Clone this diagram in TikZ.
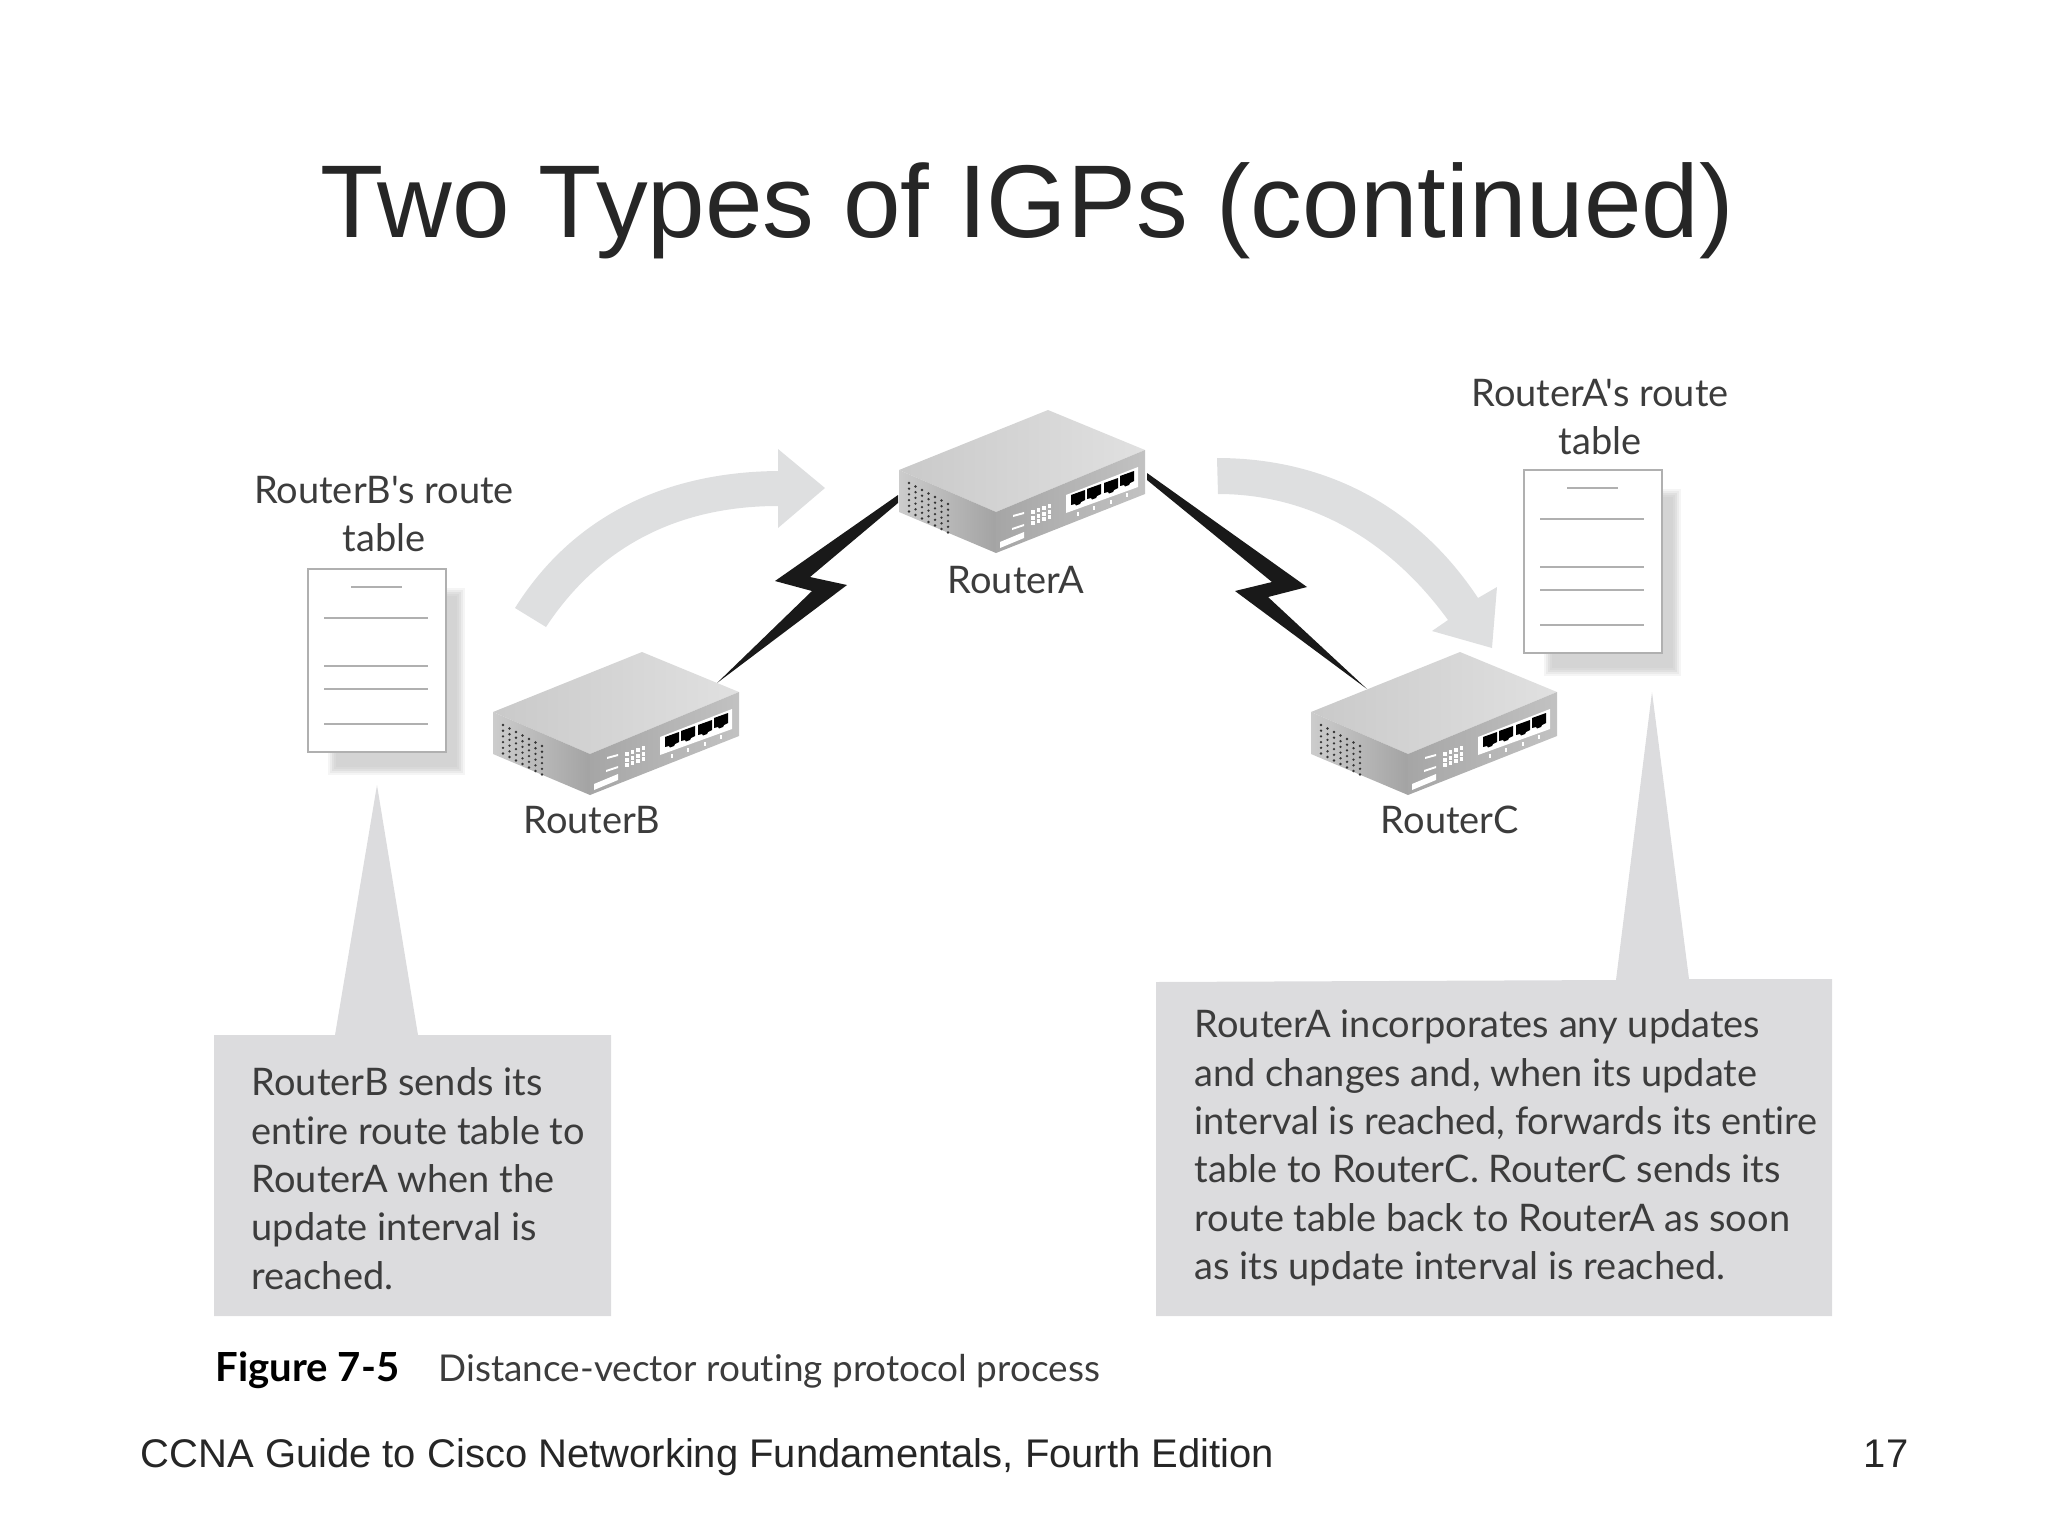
\documentclass[tikz,border=0pt]{standalone}
\usepackage{fontspec}
\newfontfamily\routerfont[Ligatures=NoCommon]{Lato}
\newfontfamily\slidefont{Liberation Sans}
\definecolor{boxgray}{HTML}{DCDCDE}
\definecolor{arrowgray}{HTML}{DEDFE0}
\definecolor{textgray}{HTML}{3C3C3C}
\definecolor{rulegray}{HTML}{B0B0B0}
\tikzset{
    router/.pic={
        % top, vent side, front side
        \shade[left color=black!21,right color=black!12] (0,0) -- (149,-60) -- (246,-20) -- (97,42) -- cycle;
        \shade[left color=black!20,right color=black!36] (0,0) -- (97,42) -- (97,83) -- (0,42) -- cycle;
        \shade[left color=black!35,right color=black!24] (97,42) -- (246,-20) -- (246,24) -- (97,83) -- cycle;
        \fill[white] (167,25) -- (239,-3) -- (239,17) -- (167,43) -- cycle;
        \foreach \i in {0,...,6}
            \foreach \j in {0,...,5}
                \fill[black!80] ({10+6.5*\i},{13+3.5*\i+5.7*\j}) circle (1.3);
        \foreach \px/\py in {179/28,195/22,212/16,228/9} {
            \fill[black] ({\px-7},{\py-3}) -- ({\px+7},{\py-8}) -- ({\px+7},{\py+2}) -- ({\px+3},{\py+4})
                -- ({\px+2},{\py+6}) -- ({\px-2},{\py+7.5}) -- ({\px-3},{\py+6}) -- ({\px-7},{\py+7}) -- cycle;
            \fill[white] ({\px-1},{\py+14}) rectangle ({\px+1},{\py+18});
        }
        \foreach \i in {0,...,3}
            \foreach \j in {0,...,2}
                \fill[white] ({132+5.5*\i},{40-2*\i+5.5*\j}) rectangle ++(3.5,4);
        \fill[white] (114,45) -- (125,42) -- (125,44) -- (114,47) -- cycle;
        \fill[white] (113,58) -- (125,54) -- (125,56) -- (113,60) -- cycle;
        \fill[white] (101,72) -- (125,62) -- (125,68) -- (101,78) -- cycle;
    },
    routetable/.pic={
        % soft shadow
        \foreach \b/\c in {5/4,3/8,1/12,-1/15,-3/17}
            \fill[black!\c] ({25-\b},{24-\b}) rectangle ({152+\b},{201+\b});
        \draw[rulegray,line width=0.5pt,fill=white] (0,0) rectangle (138,183);
        \draw[rulegray,line width=0.4pt] (43,18) -- (94,18);
        \foreach \ly in {49,97,120,155}
            \draw[rulegray,line width=0.4pt] (16,\ly) -- (120,\ly);
    },
    routername/.style={text=textgray,font=\routerfont\fontsize{10.8}{13.7}\selectfont,inner sep=0pt},
    boxtext/.style={text=textgray,font=\routerfont\fontsize{10.8}{13.75}\selectfont,inner sep=0pt,align=left,anchor=north west},
}
\begin{document}
\begin{tikzpicture}[x=0.01cm,y=-0.01cm]
    \useasboundingbox (0,0) rectangle (2048,1536);
    \node[text=black!85,font=\slidefont\fontsize{29.4}{34}\selectfont,inner sep=0pt] (title) at (1027,211) {Two Types of IGPs (continued)};

    % curved arrows
    \fill[arrowgray] (515,608) .. controls (570,520) and (660,472) .. (778,471) -- (778,449) -- (825,488)
        -- (778,528) -- (778,506) .. controls (680,506) and (600,545) .. (546,627) -- cycle;
    \fill[arrowgray] (1217,458) .. controls (1330,458) and (1420,510) .. (1478,598) -- (1497,587) -- (1492,648)
        -- (1432,631) -- (1448,620) .. controls (1390,540) and (1310,494) .. (1218,494) -- cycle;

    % wan links
    \fill[black!90] (898,495) -- (775,581) -- (812,591) -- (717,683) -- (847,585) -- (810,577) -- (898,503) -- cycle;
    \fill[black!90] (1147,473) -- (1307,587) -- (1268,597) -- (1367,689) -- (1235,591) -- (1272,582) -- (1147,480) -- cycle;

    \pic (routerB) at (493,712) {router};
    \pic (routerA) at (899,470) {router};
    \pic (routerC) at (1311,712) {router};
    \node[routername] (labelB) at (592,820) {RouterB};
    \node[routername] (labelA) at (1016,580) {RouterA};
    \node[routername] (labelC) at (1450,820) {RouterC};

    \pic (tableB) at (308,569) {routetable};
    \pic (tableA) at (1524,470) {routetable};
    \node[routername,align=center] (captionB) at (384,514) {RouterB's route\\table};
    \node[routername,align=center] (captionA) at (1600,417) {RouterA's route\\table};

    % callouts
    \fill[boxgray] (214,1035) -- (335,1035) -- (377,785) -- (418,1035) -- (611,1035) -- (611,1316) -- (214,1316) -- cycle;
    \fill[boxgray] (1156,982) -- (1616,980) -- (1652,692) -- (1689,979) -- (1832,979) -- (1832,1316) -- (1156,1316) -- cycle;
    \node[boxtext] (textB) at (251,1067) {RouterB sends its\\entire route table to\\RouterA when the\\update interval is\\reached.};
    \node[boxtext] (textA) at (1194,1009) {RouterA incorporates any updates\\and changes and, when its update\\interval is reached, forwards its entire\\table to RouterC. RouterC sends its\\route table back to RouterA as soon\\as its update interval is reached.};

    \node[text=black,font=\routerfont\fontsize{11.4}{12}\selectfont\bfseries,inner sep=0pt,anchor=west] (figno) at (215,1370) {Figure 7-5};
    \node[text=textgray,font=\routerfont\fontsize{10.5}{12}\selectfont,inner sep=0pt,anchor=west] (figtext) at (438,1371) {Distance-vector routing protocol process};

    \node[text=black!85,font=\slidefont\fontsize{11.37}{14}\selectfont,inner sep=0pt,anchor=base west] (footer) at (140,1467) {CCNA Guide to Cisco Networking Fundamentals, Fourth Edition};
    \node[text=black!85,font=\slidefont\fontsize{11.37}{14}\selectfont,inner sep=0pt,anchor=base east] (pageno) at (1909,1467) {17};
\end{tikzpicture}
\end{document}
